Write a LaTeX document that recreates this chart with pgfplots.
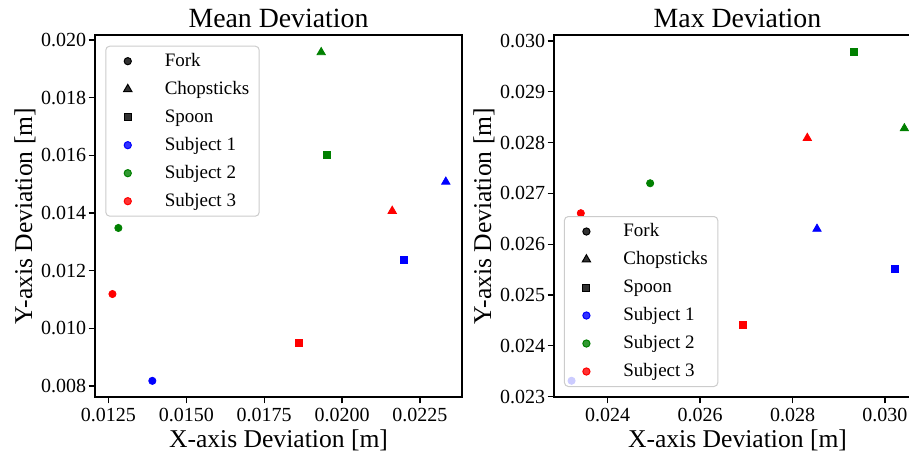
\documentclass[border=0pt]{standalone}
\usepackage{pgfplots}
\pgfplotsset{compat=1.18}
\usepackage{fontspec}
\setmainfont{Liberation Serif}
\definecolor{mgreen}{RGB}{0,128,0}
\begin{document}
\begin{tikzpicture}
\useasboundingbox (0pt,0pt) rectangle (454.5pt,228pt);
\clip (0pt,0pt) rectangle (454.5pt,228pt);
\pgfplotsset{
  legimg/.style={legend image code/.code={\path[draw=none, fill=none] (0pt,0pt) (16pt,0pt); \draw[##1] plot[only marks] coordinates {(8pt,0pt)};}},
  dev/.style={
    scale only axis, width=183.5pt, height=181pt, anchor=south west,
    axis line style={line width=0.6pt, black},
    tick align=outside, major tick length=3.2pt,
    tick style={black, line width=0.6pt},
    xtick pos=bottom, ytick pos=left,
    scaled ticks=false,
    /pgf/number format/assume math mode=true,
    ticklabel style={font=\fontsize{10}{12}\selectfont},
    y tick label style={inner xsep=1pt},
    x tick label style={inner ysep=2pt},
    every axis title/.style={font=\fontsize{13.9}{16}\selectfont, at={(0.5,1)}, anchor=base, yshift=3.5pt},
    xlabel style={font=\fontsize{12.8}{15}\selectfont, at={(axis description cs:0.5,0)}, anchor=base, yshift=-25pt},
    ylabel style={font=\fontsize{12.8}{15}\selectfont, at={(axis description cs:0,0.5)}, anchor=center, yshift=35pt},
    xlabel={X-axis Deviation [m]}, ylabel={Y-axis Deviation [m]},
    legend cell align=left,
    legend style={draw=black!20, line width=0.5pt, rounded corners=2pt, fill=white, fill opacity=0.8, text opacity=1,
      font=\fontsize{9.5}{11}\selectfont, inner xsep=3pt, inner ysep=2pt,
      nodes={inner xsep=2pt, inner ysep=1pt, text height=7pt, text depth=2pt},
      row sep=3pt, column sep=8.5pt},
    mk/.style={only marks, mark size=1.8pt, forget plot},
    cir/.style={mk, mark=*},
    tri/.style={mk, mark=triangle*, mark size=2.4pt},
    sq/.style={mk, mark=square*, mark size=1.75pt},
  }
}
\begin{axis}[dev, at={(47.5pt,29.5pt)},
  title={Mean Deviation},
  xmin=0.01207, xmax=0.02385, ymin=0.00762, ymax=0.02017,
  xtick={0.0125,0.015,0.0175,0.02,0.0225},
  ytick={0.008,0.010,0.012,0.014,0.016,0.018,0.020},
  xticklabel style={/pgf/number format/.cd, fixed, fixed zerofill, precision=4},
  yticklabel style={/pgf/number format/.cd, fixed, fixed zerofill, precision=3},
  legend style={at={(0.028,0.9705)}, anchor=north west},
]
\addplot[cir, blue] coordinates {(0.01391,0.00818)};
\addplot[tri, blue] coordinates {(0.02333,0.01508)};
\addplot[sq, blue] coordinates {(0.02200,0.01239)};
\addplot[cir, mgreen] coordinates {(0.01282,0.01348)};
\addplot[tri, mgreen] coordinates {(0.01933,0.01957)};
\addplot[sq, mgreen] coordinates {(0.01952,0.01600)};
\addplot[cir, red] coordinates {(0.01263,0.01119)};
\addplot[tri, red] coordinates {(0.02161,0.01407)};
\addplot[sq, red] coordinates {(0.01861,0.00949)};
\addlegendimage{only marks, mark=*, black, mark size=1.8pt, legimg}\addlegendentry{Fork}
\addlegendimage{only marks, mark=triangle*, black, mark size=2.4pt, legimg}\addlegendentry{Chopsticks}
\addlegendimage{only marks, mark=square*, black, mark size=1.75pt, legimg}\addlegendentry{Spoon}
\addlegendimage{only marks, mark=*, blue, mark size=1.8pt, legimg}\addlegendentry{Subject 1}
\addlegendimage{only marks, mark=*, mgreen, mark size=1.8pt, legimg}\addlegendentry{Subject 2}
\addlegendimage{only marks, mark=*, red, mark size=1.8pt, legimg}\addlegendentry{Subject 3}
\end{axis}
\begin{axis}[dev, at={(277pt,29.5pt)},
  title={Max Deviation},
  xmin=0.02284, xmax=0.03078, ymin=0.02299, ymax=0.03012,
  xtick={0.024,0.026,0.028,0.030},
  ytick={0.023,0.024,0.025,0.026,0.027,0.028,0.029,0.030},
  xticklabel style={/pgf/number format/.cd, fixed, fixed zerofill, precision=3},
  yticklabel style={/pgf/number format/.cd, fixed, fixed zerofill, precision=3},
  legend style={at={(0.027,0.0276)}, anchor=south west},
]
\addplot[cir, blue] coordinates {(0.02322,0.02331)};
\addplot[tri, blue] coordinates {(0.02853,0.02630)};
\addplot[sq, blue] coordinates {(0.03022,0.02551)};
\addplot[cir, mgreen] coordinates {(0.02492,0.02720)};
\addplot[tri, mgreen] coordinates {(0.03042,0.02828)};
\addplot[sq, mgreen] coordinates {(0.02933,0.02979)};
\addplot[cir, red] coordinates {(0.02342,0.02661)};
\addplot[tri, red] coordinates {(0.02832,0.02809)};
\addplot[sq, red] coordinates {(0.02692,0.02441)};
\addlegendimage{only marks, mark=*, black, mark size=1.8pt, legimg}\addlegendentry{Fork}
\addlegendimage{only marks, mark=triangle*, black, mark size=2.4pt, legimg}\addlegendentry{Chopsticks}
\addlegendimage{only marks, mark=square*, black, mark size=1.75pt, legimg}\addlegendentry{Spoon}
\addlegendimage{only marks, mark=*, blue, mark size=1.8pt, legimg}\addlegendentry{Subject 1}
\addlegendimage{only marks, mark=*, mgreen, mark size=1.8pt, legimg}\addlegendentry{Subject 2}
\addlegendimage{only marks, mark=*, red, mark size=1.8pt, legimg}\addlegendentry{Subject 3}
\end{axis}
\end{tikzpicture}
\end{document}
